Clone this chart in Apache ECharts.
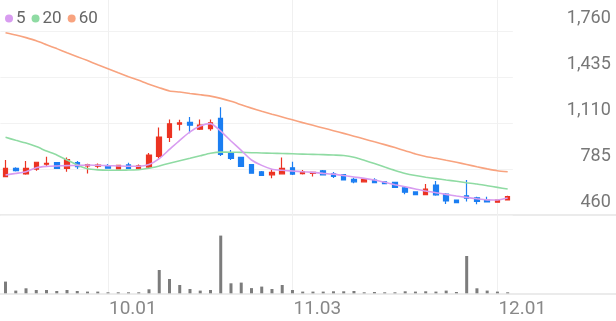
<!DOCTYPE html>
<html><head><meta charset="utf-8">
<script src="https://cdn.jsdelivr.net/npm/echarts@6/dist/echarts.min.js"></script>
<style>html,body{margin:0;padding:0;background:#fff}#c{width:616px;height:321px}</style>
</head><body><div id="c"></div>
<script>
const dates = ['09.17','09.18','09.19','09.22','09.23','09.24','09.25','09.26','09.29','09.30',
  '10.01','10.02','10.10','10.13','10.14','10.15','10.16','10.17','10.20','10.21',
  '10.22','10.23','10.24','10.27','10.28','10.29','10.30','10.31','11.03','11.04',
  '11.05','11.06','11.07','11.10','11.11','11.12','11.13','11.14','11.17','11.18',
  '11.19','11.20','11.21','11.24','11.25','11.26','11.27','11.28','12.01','12.02'];
const open = [732,790,751,786,820,831,790,832,808,806,810,787,815,788,800,875,1010,1104,1117,1068,1072,1145,895,868,818,766,745,752,795,754,755,773,752,747,712,695,708,695,691,653,624,605,672,608,566,596,582,565,551,567];
const close = [791,775,791,834,827,791,853,803,818,814,792,812,790,808,885,1013,1107,1113,1097,1097,1114,890,862,805,756,740,762,790,750,766,762,745,733,709,695,712,690,683,655,622,605,643,603,560,548,579,556,553,565,590];
const low = [728,768,745,774,803,789,767,786,755,791,790,785,788,785,792,860,978,1060,1040,1063,1057,878,850,803,754,737,720,750,744,748,733,740,722,706,686,692,688,680,652,607,603,603,597,538,546,555,536,550,548,565];
const high = [850,798,843,838,873,835,868,843,823,826,822,815,830,818,900,1080,1137,1135,1155,1138,1138,1224,921,870,820,772,785,867,838,779,767,779,765,750,725,716,720,700,694,661,626,680,701,616,568,708,590,590,568,596];
const volume = [117000,27000,50000,33000,33000,23000,33000,23000,17000,17000,10000,10000,10000,10000,40000,233000,143000,83000,43000,27000,33000,577000,100000,107000,52000,67000,43000,83000,33000,17000,17000,17000,20000,20000,23000,10000,13000,10000,10000,20000,17000,20000,17000,27000,13000,373000,50000,27000,17000,10000];
const ma5 = [744,755,767,795,805,808,810,812,815,813,810,808,806,806,818,860,925,990,1050,1092,1108,1055,985,918,850,812,785,777,772,767,762,755,750,740,730,720,708,692,675,660,645,630,618,606,595,585,575,567,566,580];
const ma20 = [1011,990,970,945,914,886,850,815,788,780,777,777,779,781,791,808,827,845,862,880,898,906,905,904,902,900,898,896,894,892,890,888,885,882,870,848,825,800,776,755,740,728,718,708,699,689,680,668,656,644];
const ma60 = [1753,1737,1718,1696,1668,1640,1611,1583,1555,1526,1498,1469,1441,1415,1387,1363,1340,1332,1322,1313,1303,1287,1266,1242,1218,1196,1175,1155,1135,1115,1096,1077,1058,1039,1019,999,979,959,938,916,893,875,862,848,834,818,802,787,774,767];
const maNames = ['5','20','60'];
const priceMin = 460, priceMax = 1760, priceStep = 325;

const UP = '#ec3322', DOWN = '#1b7ef2';
const candleData = dates.map((d, i) => [open[i], close[i], low[i], high[i]]);
const isMonthStart = (i) => i > 0 && dates[i].slice(0, 2) !== dates[i - 1].slice(0, 2);

const L = 0.4, R = 103.2;
const chart = echarts.init(document.getElementById('c'), null, {renderer: 'canvas'});
chart.setOption({
  animation: false,
  textStyle: {fontFamily: 'Roboto'},
  legend: {
    left: 0, top: 5, icon: 'circle', itemWidth: 8, itemHeight: 8, itemGap: 6,
    textStyle: {color: '#666', fontSize: 17, fontFamily: 'Roboto', padding: [0, 0, 0, -2]},
    data: maNames
  },
  graphic: [
    {type: 'line', z: -1, shape: {x1: 0, y1: 215, x2: 616, y2: 215}, style: {stroke: '#ebebeb', lineWidth: 2}},
    {type: 'line', z: -1, shape: {x1: 0, y1: 294, x2: 616, y2: 294}, style: {stroke: '#ebebeb', lineWidth: 2}}
  ],
  grid: [
    {left: L, right: R, top: 31.7, height: 183.3},
    {left: L, right: R, top: 218.3, height: 75},
    {left: L, right: R, top: 0, height: 294}
  ],
  xAxis: [
    {type: 'category', gridIndex: 0, data: dates, boundaryGap: true,
     axisLine: {show: false}, axisTick: {show: false}, axisLabel: {show: false}, splitLine: {show: false}},
    {type: 'category', gridIndex: 1, data: dates, boundaryGap: true,
     axisLine: {show: false}, axisTick: {show: false}, splitLine: {show: false},
     axisLabel: {show: true, interval: (i) => isMonthStart(i), align: 'left', margin: 6,
       color: '#888', fontSize: 19, fontFamily: 'Roboto', padding: [0, 0, 0, 1]}},
    {type: 'category', gridIndex: 2, data: dates, boundaryGap: true,
     axisLine: {show: false}, axisTick: {show: false}, axisLabel: {show: false},
     splitLine: {show: true, interval: (i) => isMonthStart(i), alignWithLabel: true,
       lineStyle: {color: '#f0f0f0', width: 1}}}
  ],
  yAxis: [
    {type: 'value', gridIndex: 0, position: 'right', min: priceMin, max: priceMax, interval: priceStep,
     axisLine: {show: false}, axisTick: {show: false},
     splitLine: {show: true, lineStyle: {color: '#f2f2f2', width: 1}},
     axisLabel: {align: 'right', margin: 98, verticalAlign: 'bottom', lineHeight: 20, padding: [0, 0, 3, 0],
       color: '#777', fontSize: 18, fontFamily: 'Roboto',
       formatter: (v) => v.toLocaleString('en-US')}},
    {type: 'value', gridIndex: 1, min: 0, max: 750000,
     axisLine: {show: false}, axisTick: {show: false}, axisLabel: {show: false}, splitLine: {show: false}},
    {type: 'value', gridIndex: 2, min: 0, max: 1,
     axisLine: {show: false}, axisTick: {show: false}, axisLabel: {show: false}, splitLine: {show: false}}
  ],
  series: [
    {name: '60', type: 'line', xAxisIndex: 0, yAxisIndex: 0, data: ma60, showSymbol: false, smooth: 0.2,
     color: '#f8a37f', lineStyle: {width: 1.6, color: '#f8a37f'}},
    {name: '20', type: 'line', xAxisIndex: 0, yAxisIndex: 0, data: ma20, showSymbol: false, smooth: 0.2,
     color: '#8fdba3', lineStyle: {width: 1.6, color: '#8fdba3'}},
    {name: '5', type: 'line', xAxisIndex: 0, yAxisIndex: 0, data: ma5, showSymbol: false, smooth: 0.2,
     color: '#d89cf0', lineStyle: {width: 1.6, color: '#d89cf0'}},
    {name: 'price', type: 'candlestick', xAxisIndex: 0, yAxisIndex: 0, data: candleData, barWidth: 5, clip: false,
     itemStyle: {color: UP, color0: DOWN, borderColor: UP, borderColor0: DOWN, borderWidth: 1.2}},
    {name: 'vol', type: 'bar', xAxisIndex: 1, yAxisIndex: 1, data: volume, barWidth: 3,
     itemStyle: {color: '#7c7c7c'}}
  ]
});
</script>
</body></html>
